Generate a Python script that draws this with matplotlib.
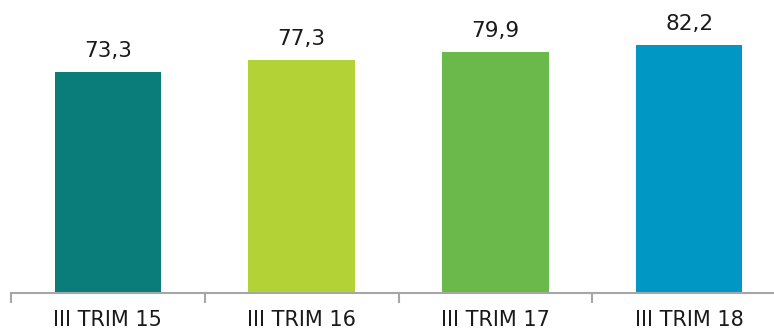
import matplotlib
matplotlib.use("Agg")
import matplotlib.pyplot as plt
from matplotlib.ticker import FixedLocator

categories = ["III TRIM 15", "III TRIM 16", "III TRIM 17", "III TRIM 18"]
values = [73.3, 77.3, 79.9, 82.2]
colors = ["#0a7d7a", "#b2d235", "#6bb94a", "#0097c4"]

W, H = 774, 331
fig = plt.figure(figsize=(W / 100, H / 100), dpi=100)
# axes run from x=11 to x=786 px (last tick falls off the image)
ax = fig.add_axes([11 / W, 38 / H, 775 / W, 293 / H])

x = list(range(len(categories)))
ax.bar(x, values, width=0.55, color=colors)
ax.set_xlim(-0.5, len(categories) - 0.5)
ax.set_ylim(0, 97.2)

for xi, v in zip(x, values):
    ax.text(xi, v + 5, f"{v:.1f}".replace(".", ","), ha="center", va="baseline",
            fontsize=15.5, color="#1a1a1a")

for s in ["top", "right", "left"]:
    ax.spines[s].set_visible(False)
ax.spines["bottom"].set_color("#a6a6a6")
ax.spines["bottom"].set_linewidth(1.5)
ax.set_yticks([])

ax.xaxis.set_major_locator(FixedLocator([i - 0.5 for i in range(len(categories) + 1)]))
ax.xaxis.set_ticklabels([])
ax.xaxis.set_minor_locator(FixedLocator(x))
ax.xaxis.set_ticklabels(categories, minor=True)
ax.tick_params(axis="x", which="major", length=7, width=1.5, color="#a6a6a6")
ax.tick_params(axis="x", which="minor", length=0, pad=12.5, labelsize=15, labelcolor="#1a1a1a")

fig.savefig("out.png", dpi=100)
